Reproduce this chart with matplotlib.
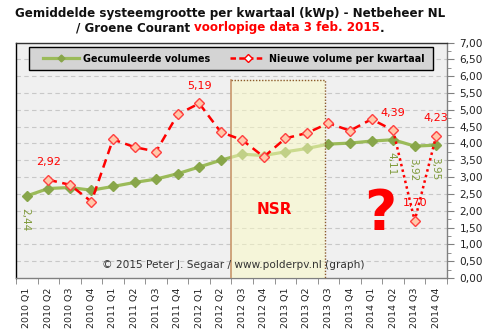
import matplotlib
matplotlib.use("Agg")
import matplotlib.pyplot as plt
from matplotlib.lines import Line2D
from matplotlib.patches import Rectangle
from matplotlib.ticker import FuncFormatter, MultipleLocator
import numpy as np

quarters = ["2010 Q1", "2010 Q2", "2010 Q3", "2010 Q4",
            "2011 Q1", "2011 Q2", "2011 Q3", "2011 Q4",
            "2012 Q1", "2012 Q2", "2012 Q3", "2012 Q4",
            "2013 Q1", "2013 Q2", "2013 Q3", "2013 Q4",
            "2014 Q1", "2014 Q2", "2014 Q3", "2014 Q4"]
cumulative = [2.44, 2.66, 2.69, 2.61, 2.72, 2.84, 2.94, 3.10, 3.30, 3.50,
              3.68, 3.64, 3.75, 3.85, 3.98, 4.01, 4.07, 4.11, 3.92, 3.95]
new_volume = [np.nan, 2.92, 2.77, 2.27, 4.12, 3.89, 3.76, 4.86, 5.19, 4.34,
              4.10, 3.60, 4.15, 4.31, 4.60, 4.38, 4.72, 4.39, 1.70, 4.23]
red_labels = {1: "2,92", 8: "5,19", 17: "4,39", 18: "1,70", 19: "4,23"}
green_labels = {0: "2,44", 17: "4,11", 18: "3,92", 19: "3,95"}
nsr_start, nsr_end, nsr_top = 9.5, 13.85, 5.9

W, H = 491, 329
fig = plt.figure(figsize=(W / 100, H / 100), dpi=100)
fig.patch.set_facecolor("white")
ax = fig.add_axes([16 / W, 1 - 278 / H, (447 - 16) / W, (278 - 42.5) / H])
ax.set_facecolor("#f0f0f0")

x = np.arange(len(quarters))
GREEN_LINE = "#9bbb59"
GREEN_MK = "#88a64a"
RED = "#ff0000"
RED_FILL = "#ffc8aa"

ax.set_xlim(-0.5, len(quarters) - 0.5)
ax.set_ylim(0, 7)

# grid
for v in np.arange(0.5, 7.0, 0.5):
    ax.axhline(v, color="#c8c8c8", lw=0.8, ls=(0, (4, 3)), zorder=1)

# green cumulative
ax.plot(x, cumulative, color=GREEN_LINE, lw=2.3, marker="D", ms=5.0,
        mfc=GREEN_MK, mec=GREEN_MK, zorder=3)

# NSR box (semi-transparent, above green, below red)
ax.add_patch(Rectangle((nsr_start, 0), nsr_end - nsr_start, nsr_top,
                       facecolor=(251 / 255, 251 / 255, 196 / 255), alpha=0.5,
                       edgecolor="none", zorder=3.5))
ax.plot([nsr_start, nsr_start], [0, nsr_top], color="#c8966a", lw=1.2, zorder=3.6)
ax.plot([nsr_start, nsr_end, nsr_end], [nsr_top, nsr_top, 0], color="#8b5a2b",
        lw=1.0, ls=(0, (1, 1.2)), zorder=3.6)

# red new volume: dashed up to 2014 Q2, dotted after
nv = np.array(new_volume)
ax.plot(x[:18], nv[:18], color=RED, lw=1.8, ls=(0, (3.5, 2.2)), zorder=4)
ax.plot(x[17:], nv[17:], color=RED, lw=1.8, ls=(0, (1, 1.3)), zorder=4)
ax.plot(x, nv, ls="none", marker="D", ms=5.3, mfc=RED_FILL, mec="#ff4040",
        mew=1.0, zorder=5)

ax.text((nsr_start + nsr_end) / 2 - 0.2, 2.05, "NSR", color=RED, fontsize=11,
        fontweight="bold", ha="center", va="center", zorder=8)

ax.text(16.4, 1.9, "?", color=RED, fontsize=40, fontweight="bold",
        ha="center", va="center", zorder=8)

for i, s in red_labels.items():
    ax.annotate(s, (x[i], new_volume[i]), xytext=(0, 12.5),
                textcoords="offset points", ha="center", va="center",
                color=RED, fontsize=8, zorder=9)
for i, s in green_labels.items():
    ax.annotate(s, (x[i], cumulative[i]), xytext=(-1, -17),
                textcoords="offset points", ha="center", va="center",
                rotation=270, color="#7f9a3a", fontsize=7.5, zorder=9)

ax.text(9.6, 0.39, "\u00a9 2015 Peter J. Segaar / www.polderpv.nl (graph)",
        ha="center", va="center", fontsize=7.6, color="#333333", zorder=9)

# axes styling
ax.yaxis.tick_right()
ax.yaxis.set_major_locator(MultipleLocator(0.5))
ax.yaxis.set_minor_locator(MultipleLocator(0.25))
ax.yaxis.set_major_formatter(FuncFormatter(lambda v, p: f"{v:.2f}".replace(".", ",")))
ax.tick_params(axis="y", which="major", length=5, color="#808080",
               labelsize=7.6, labelcolor="#222222", pad=4)
ax.tick_params(axis="y", which="minor", length=3, color="#808080")

ax.set_xticks(x)
ax.set_xticklabels(quarters, rotation=90, fontsize=6.8, color="#222222")
ax.set_xticks(np.arange(-0.5, len(quarters), 1), minor=True)
ax.tick_params(axis="x", which="major", length=0, pad=7)
ax.tick_params(axis="x", which="minor", length=4, color="#808080")

ax.spines["left"].set_color("black")
ax.spines["top"].set_color("#333333")
ax.spines["right"].set_color("#808080")
ax.spines["bottom"].set_color("#808080")
for s in ax.spines.values():
    s.set_linewidth(1.0)

# legend box
fig.patches.append(Rectangle((29 / W, 1 - 70 / H), 404 / W, 23 / H,
                             transform=fig.transFigure, facecolor="#d4d4d4",
                             edgecolor="black", lw=1.0, zorder=10))
h1 = Line2D([], [], color=GREEN_LINE, lw=2.3, marker="D", ms=3.5,
            mfc=GREEN_MK, mec=GREEN_MK)
h2 = Line2D([], [], color=RED, lw=1.8, ls=(0, (2.2, 1.3)), marker="D", ms=3.8,
            mfc="white", mec=RED, mew=1.0)
leg = fig.legend([h1, h2], ["Gecumuleerde volumes", "Nieuwe volume per kwartaal"],
                 ncol=2, loc="center", bbox_to_anchor=(234 / W, 1 - 58.5 / H),
                 frameon=False, prop={"weight": "bold", "size": 6.9},
                 handlelength=3.7, columnspacing=2.1, handletextpad=0.4,
                 numpoints=1)
leg.set_zorder(11)

# title
fig.text(230 / W, 1 - 14 / H,
         "Gemiddelde systeemgrootte per kwartaal (kWp) - Netbeheer NL",
         ha="center", va="center", fontsize=8.6, fontweight="bold", color="#111111")
t1 = fig.text(76 / W, 1 - 28 / H, "/ Groene Courant ", ha="left", va="center",
              fontsize=8.6, fontweight="bold", color="#111111")
t2 = fig.text(0, 0, "voorlopige data 3 feb. 2015", fontsize=8.6,
              fontweight="bold", color=RED)
fig.canvas.draw()
r = fig.canvas.get_renderer()
bb = t1.get_window_extent(r)
t2.set_position((bb.x1 / W, 1 - 28 / H))
t2.set_va("center")
fig.canvas.draw()
bb2 = t2.get_window_extent(r)
fig.text(bb2.x1 / W, 1 - 28 / H, ".", ha="left", va="center", fontsize=8.6,
         fontweight="bold", color="#111111")

fig.savefig("out.png", dpi=100)
